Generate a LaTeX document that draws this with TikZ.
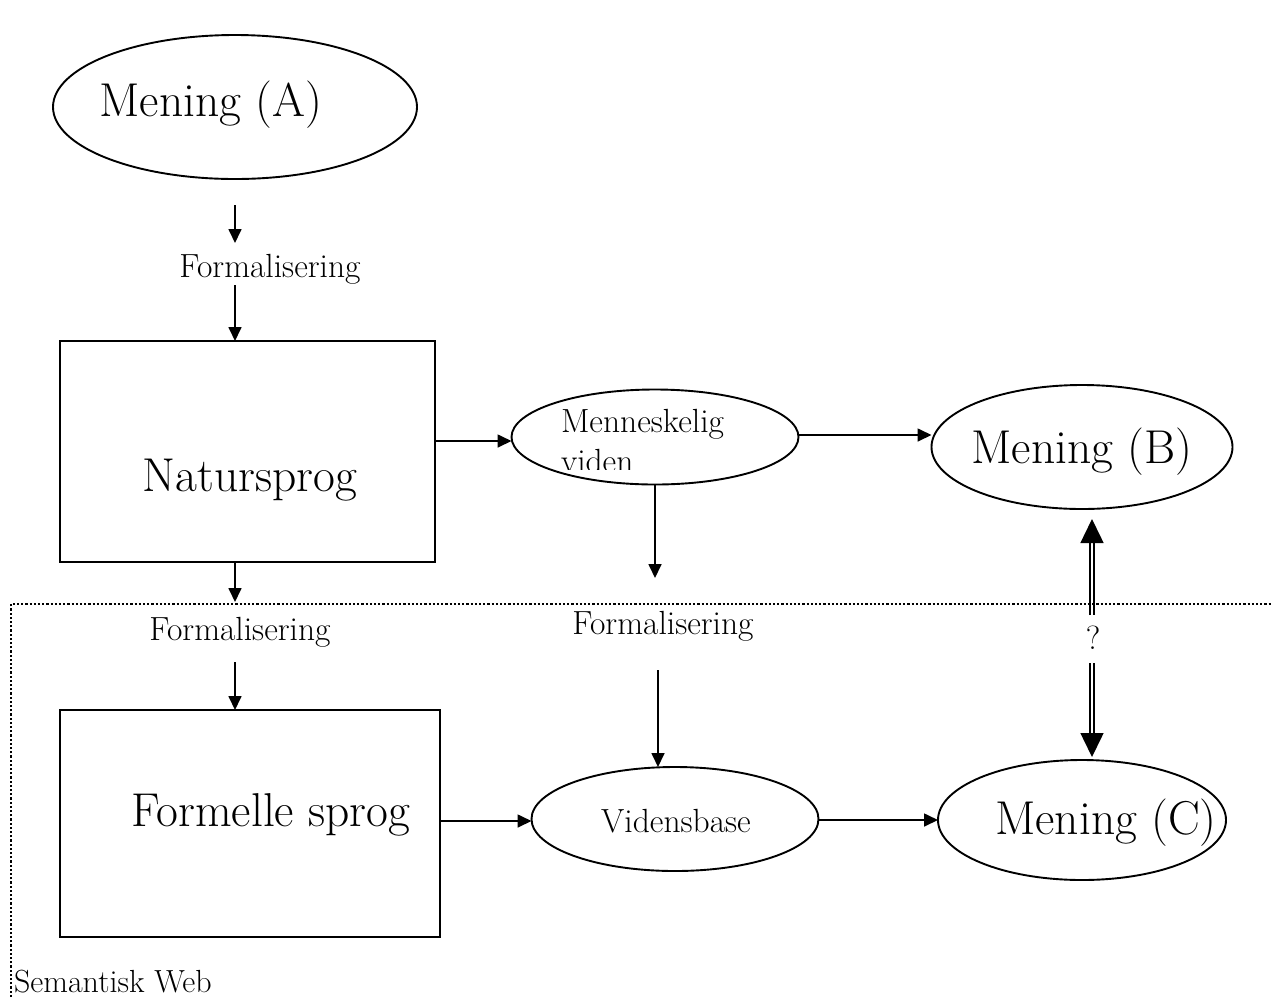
\documentclass[tikz,border=0pt]{standalone}
\usetikzlibrary{shapes.geometric,arrows.meta}
\begin{document}
\begin{tikzpicture}[x=1pt,y=-1pt,
  every node/.style={inner sep=0pt,outer sep=0pt},
  ell/.style={draw,ellipse,line width=1.9pt},
  boxnode/.style={draw,rectangle,line width=1.8pt},
  arr/.style={line width=1.7pt,-{Triangle[length=14pt,width=13pt]}},
  dblarr/.style={line width=1.5pt,double distance=2.4pt,-{Triangle[length=24pt,width=23pt]}},
  big/.style={font=\fontsize{47.5}{56}\selectfont},
  small/.style={font=\fontsize{33.5}{40}\selectfont}]
\useasboundingbox (0,0) rectangle (1272,997);

% shapes
\node[ell,minimum width=364pt,minimum height=144pt] (mA) at (235,107) {};
\node[boxnode,minimum width=375pt,minimum height=221pt] (nat) at (247.5,451.5) {};
\node[ell,minimum width=287pt,minimum height=95pt] (mv) at (655,437) {};
\node[ell,minimum width=301pt,minimum height=124pt] (mB) at (1082,447) {};
\node[boxnode,minimum width=380pt,minimum height=227pt] (fs) at (250,823.5) {};
\node[ell,minimum width=287pt,minimum height=104pt] (vb) at (675,819) {};
\node[ell,minimum width=288pt,minimum height=120pt] (mC) at (1082,820) {};

% labels
\node[big,anchor=base] at (211,116) {Mening (A)};
\node[big,anchor=base] at (250,491) {Natursprog};
\node[big,anchor=base] at (1082,463) {Mening (B)};
\node[big,anchor=base] at (271,826) {Formelle sprog};
\node[big,anchor=base] at (1106,834) {Mening (C)};
\node[small,anchor=base] at (676,832) {Vidensbase};
\begin{scope}
  \clip (540,395) rectangle (790,469);
  \node[small,anchor=base west] at (561,432) {Menneskelig};
  \node[small,anchor=base west] at (561,472) {viden};
\end{scope}

% formalisation steps
\coordinate (f1a) at (235,205); \coordinate (f1b) at (235,243);
\coordinate (f1c) at (235,285);
\node[small,anchor=base] (l1) at (270,277) {Formalisering};
\draw[arr] (f1a) -- (f1b);
\draw[arr] (f1c) -- (f1c |- nat.north);

\coordinate (f2a) at (235,563); \coordinate (f2b) at (235,602);
\coordinate (f2c) at (235,662);
\node[small,anchor=base] (l2) at (240,640) {Formalisering};
\draw[arr] (f2a) -- (f2b);
\draw[arr] (f2c) -- (f2c |- fs.north);

\coordinate (f3a) at (655,485); \coordinate (f3b) at (655,578);
\coordinate (f3c) at (658,670);
\node[small,anchor=base] (l3) at (663,634) {Formalisering};
\draw[arr] (f3a) -- (f3b);
\draw[arr] (f3c) -- (f3c |- vb.north);

% horizontal flows
\draw[arr] (nat.east |- 0,441) -- (mv.west |- 0,441);
\draw[arr] (mv.east |- 0,435) -- (mB.west |- 0,435);
\draw[arr] (fs.east |- 0,821) -- (vb.west |- 0,821);
\draw[arr] (vb.east |- 0,820) -- (mC.west |- 0,820);

% B <-> C
\node[small,anchor=base] (q) at (1093,649) {?};
\coordinate (d1) at (1092,615); \coordinate (d2) at (1092,663);
\draw[dblarr] (d1) -- (1092,519);
\draw[dblarr] (d2) -- (1092,757);

% semantic web region
\draw[line width=2.2pt,dash pattern=on 2.2pt off 2pt] (11,997) -- (11,604) -- (1272,604);
\node[font=\fontsize{32}{38}\selectfont,anchor=base west] at (14,992) {Semantisk Web};
\end{tikzpicture}
\end{document}
